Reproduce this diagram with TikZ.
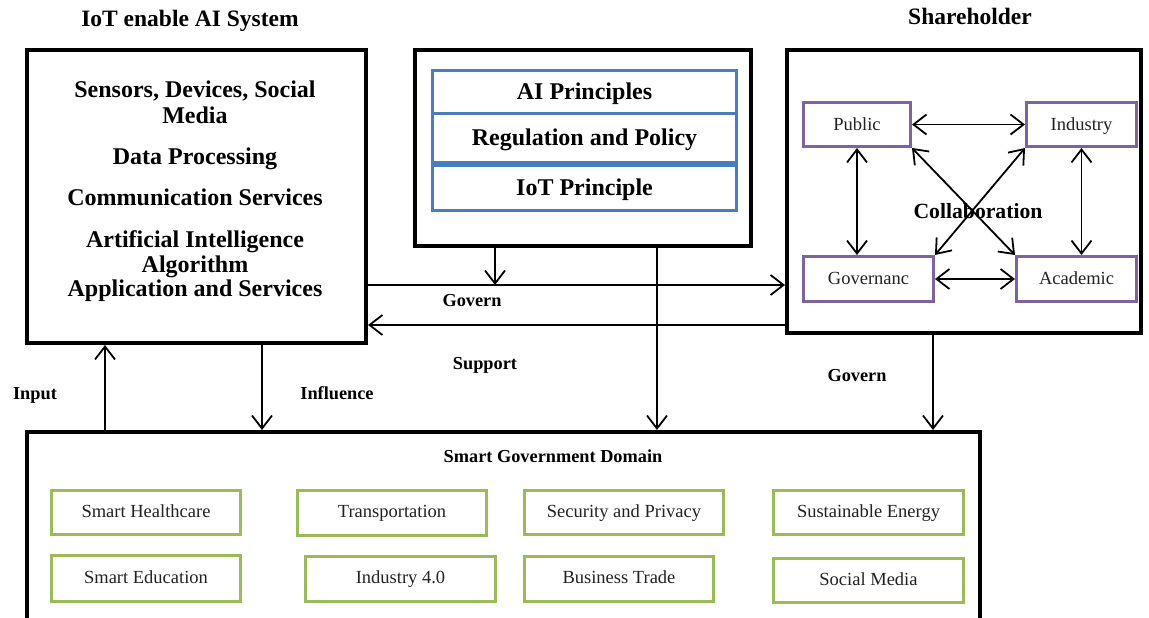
\documentclass[tikz,border=0pt]{standalone}
\usepackage{fontspec}
\setmainfont{Liberation Serif}
\usetikzlibrary{arrows.meta,calc}
\definecolor{bluecol}{HTML}{4A7EBB}
\definecolor{purplecol}{HTML}{7F63A1}
\definecolor{greencol}{HTML}{9BBB59}
\definecolor{textcol}{HTML}{222222}
\begin{document}
\begin{tikzpicture}[x=1pt,y=-1pt,
  bigbox/.style={draw=black, line width=4pt, inner sep=0pt},
  rowbox/.style={draw=bluecol, line width=3pt, inner sep=0pt, minimum width=304pt,
    font=\fontsize{24}{28}\selectfont\bfseries, text height=20pt, text depth=4pt},
  stakebox/.style={draw=purplecol, line width=3pt, inner sep=0pt,
    font=\fontsize{18.5}{22}\selectfont, text height=14pt, text depth=3pt, text=textcol},
  domainbox/.style={draw=greencol, line width=3pt, inner sep=0pt,
    font=\fontsize{18.5}{22}\selectfont, text height=13pt, text depth=4pt, text=textcol},
  bigtxt/.style={anchor=base, font=\fontsize{24}{28}\selectfont\bfseries, inner sep=0pt},
  titletxt/.style={anchor=base, font=\fontsize{23.5}{28}\selectfont\bfseries, inner sep=0pt},
  lbl/.style={anchor=base, font=\fontsize{18.3}{22}\selectfont\bfseries, inner sep=0pt},
  arr/.style={-{Straight Barb[length=13pt,width=20pt]}, line width=1.8pt},
  darr/.style={{Straight Barb[length=13pt,width=20pt]}-{Straight Barb[length=13pt,width=20pt]}, line width=1.8pt}
]
\useasboundingbox (0,0) rectangle (1149,618);

% titles
\node[titletxt] (t1) at (190,27) {IoT enable AI System};
\node[titletxt] (t2) at (970,25) {Shareholder};

% left box
\node[bigbox, minimum width=339pt, minimum height=293pt] (L) at (196.5,196.5) {};
\node[bigtxt] (l1) at (195,98) {Sensors, Devices, Social};
\node[bigtxt] (l2) at (195,124) {Media};
\node[bigtxt] (l3) at (195,164) {Data Processing};
\node[bigtxt] (l4) at (195,205) {Communication Services};
\node[bigtxt] (l5) at (195,247) {Artificial Intelligence};
\node[bigtxt] (l6) at (195,272) {Algorithm};
\node[bigtxt] (l7) at (195,296) {Application and Services};

% middle box
\node[bigbox, minimum width=336pt, minimum height=196pt] (M) at (583,148) {};
\node[rowbox, minimum height=42.5pt] (m1) at (584.5,91.75) {AI Principles};
\node[rowbox, minimum height=49pt] (m2) at (584.5,137.5) {Regulation and Policy};
\node[rowbox, minimum height=45.5pt] (m3) at (584.5,187.75) {IoT Principle};

% right box
\node[bigbox, minimum width=354pt, minimum height=283pt] (R) at (964,191.5) {};
\node[anchor=base, font=\fontsize{21.7}{26}\selectfont\bfseries, inner sep=0pt] (collab) at (978,218) {Collaboration};
\node[stakebox, minimum width=107pt, minimum height=44pt] (P) at (857,124.5) {Public};
\node[stakebox, minimum width=110pt, minimum height=44pt] (I) at (1081.5,124.5) {Industry};
\node[stakebox, minimum width=130pt, minimum height=45pt] (G) at (868.5,279) {Governanc};
\node[stakebox, minimum width=120pt, minimum height=45pt] (A) at (1076.5,279) {Academic};

\draw[darr] (P.east) -- (I.west);
\draw[darr] (G.east) -- (A.west);
\draw[darr] (P.south) -- (P.south |- G.north);
\draw[darr] (I.south) -- (I.south |- A.north);
\draw[darr] (P.south east) -- (A.north west);
\draw[darr] (I.south west) -- (G.north east);

% bottom box
\node[bigbox, minimum width=953pt, minimum height=193pt] (B) at (503.5,528.5) {};
\node[lbl] (sgd) at (553,462) {Smart Government Domain};
\node[domainbox, minimum width=189pt, minimum height=44pt] (d1) at (146,512.5) {Smart Healthcare};
\node[domainbox, minimum width=189pt, minimum height=46pt] (d2) at (146,578.5) {Smart Education};
\node[domainbox, minimum width=189pt, minimum height=45pt] (d3) at (392,513) {Transportation};
\node[domainbox, minimum width=190pt, minimum height=45pt] (d4) at (400.5,579) {Industry 4.0};
\node[domainbox, minimum width=199pt, minimum height=44pt] (d5) at (624,512.5) {Security and Privacy};
\node[domainbox, minimum width=189pt, minimum height=45pt] (d6) at (619,579) {Business Trade};
\node[domainbox, minimum width=190pt, minimum height=44pt] (d7) at (868.5,512.5) {Sustainable Energy};
\node[domainbox, minimum width=190pt, minimum height=44pt] (d8) at (868.5,580.5) {Social Media};

% connector coordinates
\coordinate (gy) at (0,285);
\coordinate (sy) at (0,325);
\coordinate (mg) at (495,285);

\draw[arr] (L.east |- gy) -- (R.west |- gy);
\draw[arr] (R.west |- sy) -- (L.east |- sy);
\draw[arr] (M.south -| mg) -- (mg);
\draw[arr] (M.south -| 657,0) -- (B.north -| 657,0);
\draw[arr] (R.south -| 933,0) -- (B.north -| 933,0);
\draw[arr] (L.south -| 262,0) -- (B.north -| 262,0);
\draw[arr] (B.north -| 105,0) -- (L.south -| 105,0);

% labels
\node[lbl] (lin) at (35,399) {Input};
\node[lbl] (linf) at (337,399) {Influence};
\node[lbl] (lgov) at (472,306) {Govern};
\node[lbl] (lsup) at (485,369) {Support};
\node[lbl] (lgov2) at (857,381) {Govern};
\end{tikzpicture}
\end{document}
